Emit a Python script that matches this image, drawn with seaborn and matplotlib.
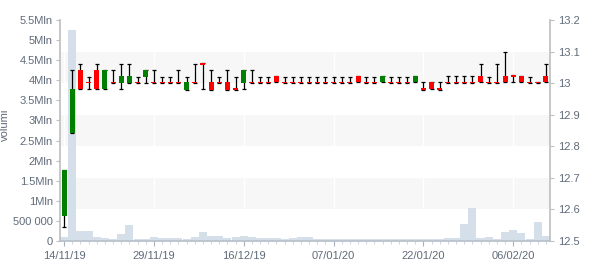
import numpy as np
import pandas as pd
import matplotlib
matplotlib.use('Agg')
import matplotlib.pyplot as plt
import seaborn as sns
from matplotlib.transforms import blended_transform_factory
from matplotlib.patches import Rectangle
from matplotlib.ticker import FixedLocator, FuncFormatter, MultipleLocator

# ---------------- data ----------------
dates = pd.bdate_range('2019-11-14', '2020-02-12', freq='C',
                       holidays=['2019-12-24', '2019-12-25', '2019-12-26',
                                 '2019-12-31', '2020-01-01'])
date_labels = list(dates.strftime('%d/%m/%y'))

price_open = [12.58, 12.842, 13.041, 13.005, 13.041, 12.982, 13.005, 13.002, 13.002, 13.005,
              13.02, 13.005, 13.005, 13.005, 13.005, 12.978, 13.005, 13.063, 13.004, 13.005,
              13.004, 12.984, 13.002, 13.005, 13.005, 13.005, 13.022, 13.005, 13.005, 13.005,
              13.005, 13.005, 13.005, 13.005, 13.005, 13.005, 13.022, 13.005, 13.005, 13.003,
              13.005, 13.005, 13.005, 13.003, 12.985, 13.003, 12.985, 13.005, 13.005, 13.005,
              13.005, 13.022, 13.005, 13.005, 13.022, 13.025, 13.022, 13.005, 13.005, 13.022]
price_high = [12.725, 13.041, 13.06, 13.021, 13.06, 13.041, 13.041, 13.06, 13.06, 13.02,
              13.041, 13.041, 13.02, 13.02, 13.041, 13.02, 13.06, 13.063, 13.041, 13.02,
              13.041, 13.02, 13.042, 13.041, 13.02, 13.02, 13.022, 13.02, 13.02, 13.02,
              13.02, 13.02, 13.02, 13.02, 13.02, 13.02, 13.022, 13.02, 13.02, 13.022,
              13.02, 13.02, 13.02, 13.022, 13.003, 13.003, 13.003, 13.022, 13.022, 13.022,
              13.022, 13.06, 13.02, 13.06, 13.1, 13.025, 13.022, 13.02, 13.005, 13.06]
price_low = [12.545, 12.842, 12.982, 12.98, 12.982, 12.982, 13.0, 12.98, 13.002, 13.0,
             13.0, 13.0, 13.0, 13.0, 13.0, 12.978, 13.0, 12.98, 12.978, 13.0,
             12.978, 12.977, 12.98, 13.0, 13.0, 13.0, 13.003, 13.0, 13.0, 13.0,
             13.0, 13.0, 13.0, 13.0, 13.0, 13.0, 13.003, 13.0, 13.0, 13.003,
             13.0, 13.0, 13.0, 13.003, 12.979, 12.981, 12.979, 13.0, 13.0, 13.0,
             13.0, 13.003, 13.0, 13.0, 13.003, 13.003, 13.003, 13.0, 13.0, 13.003]
price_close = [12.725, 12.982, 12.982, 13.0, 12.982, 13.041, 13.0, 13.023, 13.023, 13.0,
               13.041, 13.0, 13.0, 13.0, 13.0, 13.004, 13.0, 13.057, 12.978, 13.0,
               12.978, 12.977, 13.042, 13.0, 13.0, 13.0, 13.003, 13.0, 13.0, 13.0,
               13.0, 13.0, 13.0, 13.0, 13.0, 13.0, 13.003, 13.0, 13.0, 13.022,
               13.0, 13.0, 13.0, 13.022, 12.979, 12.981, 12.979, 13.0, 13.0, 13.0,
               13.0, 13.003, 13.0, 13.0, 13.003, 13.019, 13.003, 13.0, 13.0, 13.003]
volume_mln = [0.10, 5.26, 0.25, 0.25, 0.10, 0.075, 0.04, 0.175, 0.40, 0.04,
              0.04, 0.10, 0.075, 0.075, 0.075, 0.04, 0.10, 0.225, 0.125, 0.125,
              0.075, 0.10, 0.125, 0.10, 0.075, 0.075, 0.075, 0.05, 0.075, 0.10,
              0.10, 0.04, 0.04, 0.04, 0.04, 0.04, 0.04, 0.04, 0.04, 0.04,
              0.04, 0.04, 0.04, 0.04, 0.04, 0.04, 0.04, 0.075, 0.075, 0.42,
              0.82, 0.075, 0.10, 0.04, 0.225, 0.27, 0.20, 0.04, 0.47, 0.125]

df = pd.DataFrame({'day': np.arange(len(dates)), 'date': date_labels,
                   'open': price_open, 'high': price_high, 'low': price_low,
                   'close': price_close, 'volume': np.array(volume_mln) * 1e6})

# ---------------- style ----------------
sns.set_theme(style='white')
plt.rcParams['font.family'] = ['Liberation Sans', 'DejaVu Sans']
TXT = '#606b7a'
AXC = '#c0c0c0'

fig = plt.figure(figsize=(6, 2.7), dpi=100)
ax_v = fig.add_axes([60 / 600, 1 - 241 / 270, 490 / 600, 221 / 270])
ax_p = ax_v.twinx()

ax_v.set_xlim(-0.5, len(df) - 0.5)
ax_v.set_ylim(0, 5.5e6)
ax_p.set_ylim(12.5, 13.2)

# bands (price axis) drawn behind the volume bars
btr = blended_transform_factory(ax_v.transAxes, ax_p.transData)
for lo in [12.6, 12.8, 13.0]:
    ax_v.add_patch(Rectangle((0, lo), 1, 0.1, transform=btr,
                             facecolor='#f7f7f7', edgecolor='none', zorder=0))
major_pos = list(range(0, len(df), 11))
for xp in major_pos:
    ax_v.axvline(xp, color='white', lw=1, zorder=0.5)

# volume
sns.barplot(data=df, x='day', y='volume', ax=ax_v, native_scale=True,
            color='#d5dfe9', saturation=1, width=1.0, linewidth=0, zorder=1)

# candles
mid = (df['high'] + df['low']) / 2
half = (df['high'] - df['low']) / 2
ax_p.errorbar(df['day'], mid, yerr=[half, half], fmt='none', ecolor='black',
              elinewidth=0.9, capsize=1.5, capthick=0.9, zorder=2)
up = df['close'] >= df['open']
colors = np.where(up, '#007f00', '#ff0000')
bottoms = np.minimum(df['open'], df['close'])
heights = np.abs(df['close'] - df['open'])
ax_p.bar(df['day'], heights, bottom=bottoms, width=0.6, color=colors,
         linewidth=0, zorder=3)

# ---------------- axes cosmetics ----------------
for ax in (ax_v, ax_p):
    ax.set_facecolor('none')
    ax.spines['top'].set_visible(False)
ax_v.spines['left'].set_color(AXC)
ax_v.spines['bottom'].set_color('#b8c0cc')
ax_v.spines['right'].set_visible(False)
ax_p.spines['right'].set_color(AXC)
ax_p.spines['left'].set_visible(False)
ax_p.spines['bottom'].set_visible(False)
ax_v.set_zorder(0)
ax_p.set_zorder(1)

def vol_fmt(v, pos):
    if v == 0:
        return '0'
    if v < 1e6:
        return '{:,.0f}'.format(v).replace(',', ' ')
    return '{:g}Mln'.format(v / 1e6)

ax_v.yaxis.set_major_locator(MultipleLocator(5e5))
ax_v.yaxis.set_major_formatter(FuncFormatter(vol_fmt))
ax_p.yaxis.set_major_locator(MultipleLocator(0.1))
ax_p.yaxis.set_major_formatter(FuncFormatter(lambda v, p: '{:g}'.format(round(v, 2))))

ax_v.xaxis.set_major_locator(FixedLocator(major_pos))
ax_v.set_xticklabels([date_labels[i] for i in major_pos])
ax_v.xaxis.set_minor_locator(MultipleLocator(1))
ax_v.set_xlabel('')
ax_v.set_ylabel('volumi', color=TXT, fontsize=8)
ax_v.yaxis.set_label_coords(-0.103, 0.527)

ax_v.tick_params(axis='y', which='major', left=True, length=3, width=0.8,
                 color=AXC, labelcolor=TXT, labelsize=8, pad=2)
ax_p.tick_params(axis='y', which='major', right=True, length=3, width=0.8,
                 color=AXC, labelcolor=TXT, labelsize=8, pad=2.5)
ax_v.tick_params(axis='x', which='major', bottom=True, length=3.5, width=0.8,
                 color='#a8b0bc', labelcolor=TXT, labelsize=8, pad=4)
ax_v.tick_params(axis='x', which='minor', bottom=True, length=2, width=0.7,
                 color='#d0d6de')
ax_p.tick_params(axis='x', which='both', bottom=False, top=False)

fig.savefig('out.png', dpi=100)
